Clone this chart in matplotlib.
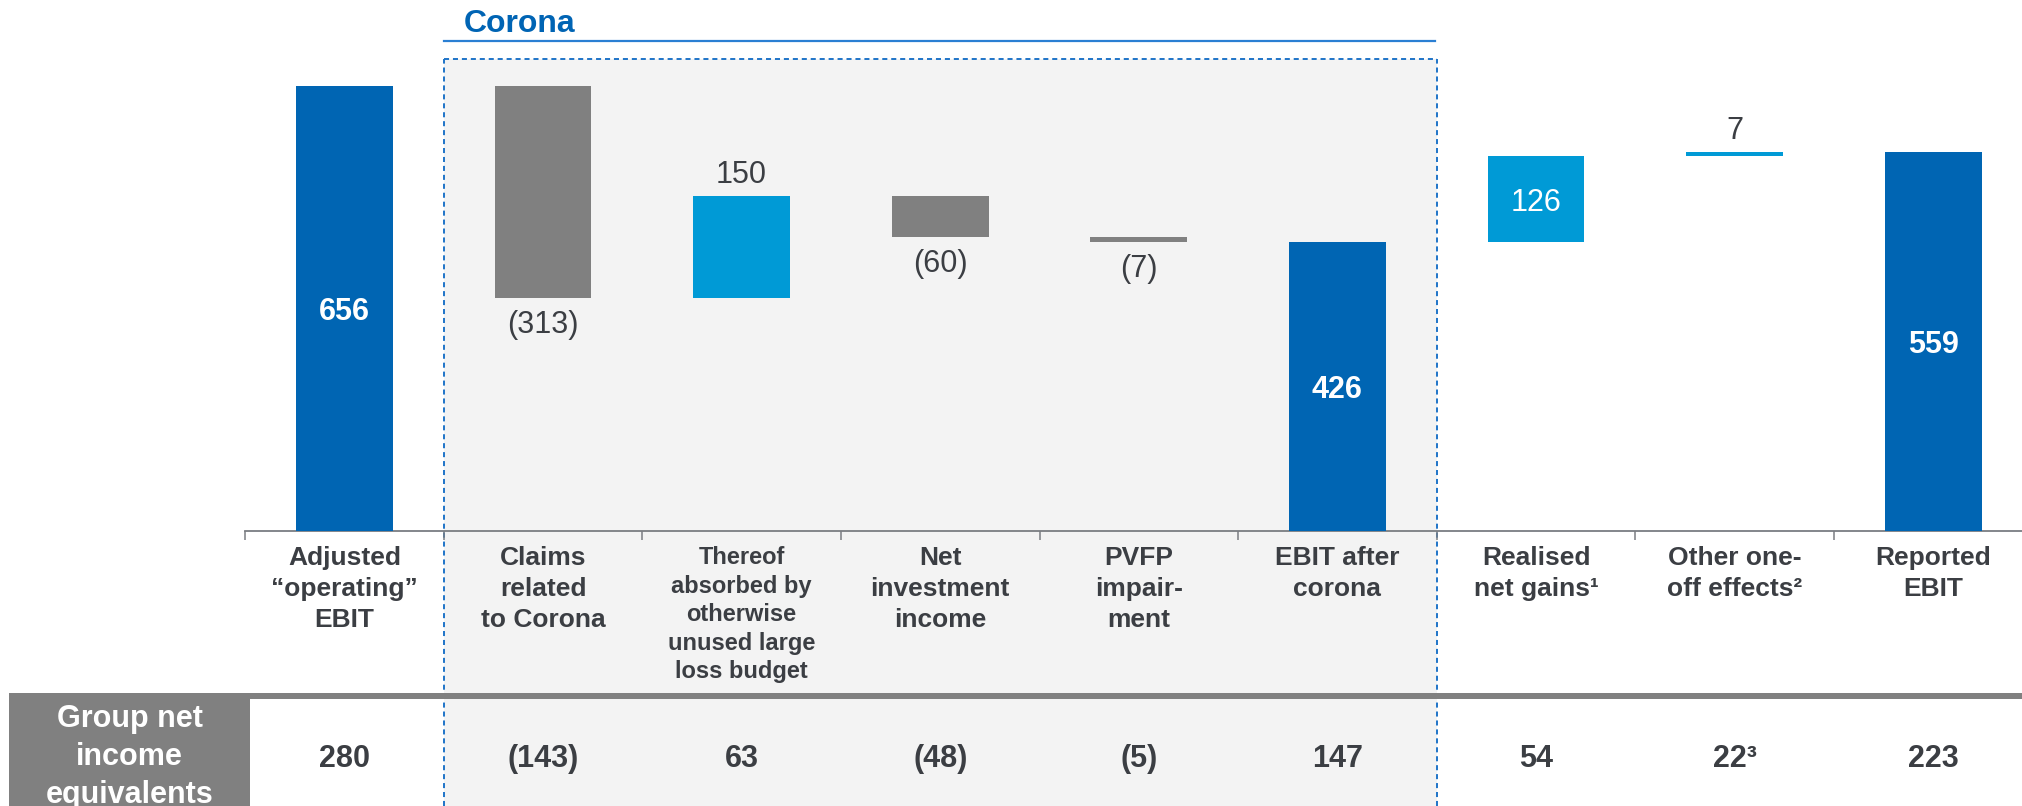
import matplotlib
matplotlib.use("Agg")
import matplotlib.pyplot as plt
import matplotlib.transforms as mtransforms
from matplotlib.patches import Rectangle
import numpy as np

plt.rcParams['font.family'] = ['Liberation Sans', 'DejaVu Sans']

# ---------------- data ----------------
categories = [
    'Adjusted\n\u201coperating\u201d\nEBIT',
    'Claims\nrelated\nto Corona',
    'Thereof\nabsorbed by\notherwise\nunused large\nloss budget',
    'Net\ninvestment\nincome',
    'PVFP\nimpair-\nment',
    'EBIT after\ncorona',
    'Realised\nnet gains\u00b9',
    'Other one-\noff effects\u00b2',
    'Reported\nEBIT',
]
kinds = ['total', 'neg', 'pos', 'neg', 'neg', 'total', 'pos', 'pos', 'total']
values = [656, -313, 150, -60, -7, 426, 126, 7, 559]
bar_labels = ['656', '(313)', '150', '(60)', '(7)', '426', '126', '7', '559']
net_income = ['280', '(143)', '63', '(48)', '(5)', '147', '54', '22\u00b3', '223']
row_title = 'Group net\nincome\nequivalents'
group_title = 'Corona'
group_span = (1, 5)          # categories inside the Corona box

# ---------------- styles ----------------
W, H, DPI = 2022, 806, 100
C_TOTAL = '#0065b3'
C_POS = '#009ad6'
C_NEG = '#808080'
C_TEXT = '#3b3e43'
C_SHADE = '#f3f3f3'
C_DASH = '#1f74c8'
label_mode = ['in', 'below', 'above', 'below', 'below', 'in', 'in', 'above', 'in']

fig = plt.figure(figsize=(W / DPI, H / DPI), dpi=DPI)
fig.patch.set_facecolor('white')

base_px = 530.7      # baseline position from top
px_per_unit = 0.678
c0_px, step_px = 344.4, 198.6

ax = fig.add_axes([0, (H - base_px) / H, 1, base_px / H])
ax.patch.set_visible(False)
for s in ['top', 'left', 'right']:
    ax.spines[s].set_visible(False)
ax.spines['bottom'].set_bounds(-0.5, len(categories) - 0.5)
ax.spines['bottom'].set_color('#7a7d82')
ax.spines['bottom'].set_linewidth(1.3)
ax.set_yticks([])
ax.set_xticks(np.arange(-0.5, len(categories) - 0.5, 1.0))
ax.set_xticklabels([])
ax.tick_params(axis='x', direction='out', length=6.5, width=1.1, color='#7a7d82')
ax.set_ylim(0, base_px / px_per_unit)
ax.set_xlim(-c0_px / step_px, (W - c0_px) / step_px)

# waterfall geometry
x = np.arange(len(categories))
bottoms, heights, colors = [], [], []
running = 0
for k, v in zip(kinds, values):
    if k == 'total':
        bottoms.append(0); heights.append(v); colors.append(C_TOTAL)
        running = v
    elif k == 'pos':
        bottoms.append(running); heights.append(v); colors.append(C_POS)
        running += v
    else:
        bottoms.append(running + v); heights.append(-v); colors.append(C_NEG)
        running += v

ax.bar(x, heights, bottom=bottoms, width=0.488, color=colors, zorder=3)

# bar labels
for i, (lab, mode) in enumerate(zip(bar_labels, label_mode)):
    b, h = bottoms[i], heights[i]
    if mode == 'in':
        bold = kinds[i] == 'total'
        ax.text(x[i], b + h / 2, lab, ha='center', va='center_baseline',
                fontsize=22, color='white', fontweight='bold' if bold else 'normal', zorder=4)
    elif mode == 'above':
        ax.annotate(lab, (x[i], b + h), xytext=(0, 9.5), textcoords='offset points',
                    ha='center', va='baseline', fontsize=22, color=C_TEXT, zorder=4)
    else:
        ax.annotate(lab, (x[i], b), xytext=(0, -8.5), textcoords='offset points',
                    ha='center', va='top', fontsize=22, color=C_TEXT, zorder=4)

# blended transform: x in data, y in figure fraction
bt = mtransforms.blended_transform_factory(ax.transData, fig.transFigure)

def fy(px):
    return (H - px) / H

# Corona shaded box
x0, x1 = group_span[0] - 0.5, group_span[1] + 0.5
top = fy(58.5)
ax.add_patch(Rectangle((x0, 0), x1 - x0, top, transform=bt, facecolor=C_SHADE,
                       edgecolor='none', zorder=0, clip_on=False))
dash = (0, (2.6, 2.0))
for xs, ys in [([x0, x0], [0, top]), ([x0, x1], [top, top]), ([x1, x1], [0, top])]:
    ax.plot(xs, ys, transform=bt, color=C_DASH, lw=1.4, linestyle=dash,
            clip_on=False, zorder=1, solid_capstyle='butt', dash_capstyle='butt')

# Corona title and underline
ax.plot([x0, x1 - 0.01], [fy(40.7), fy(40.7)], transform=bt, color='#2a7fd3',
        lw=1.6, clip_on=False, zorder=1)
ax.text(x0 + 0.102, fy(32), group_title, transform=bt, ha='left', va='baseline',
        fontsize=23, fontweight='bold', color='#0064b4')

# category labels
for i, lab in enumerate(categories):
    small = lab.count('\n') >= 4
    ax.text(x[i], fy(546), lab, transform=bt, ha='center', va='top',
            fontsize=17 if small else 19, fontweight='bold', color=C_TEXT,
            linespacing=1.31 if small else 1.38, multialignment='center')

# net income row
fig.add_artist(Rectangle((9 / W, 0), (250 - 9) / W, fy(693), transform=fig.transFigure,
                         facecolor='#808080', edgecolor='none', zorder=2))
fig.add_artist(Rectangle((9 / W, fy(698.5)), (W - 9) / W, fy(693) - fy(698.5),
                         transform=fig.transFigure, facecolor='#808080',
                         edgecolor='none', zorder=2))
fig.text(129.5 / W, fy(757), row_title, ha='center', va='center', fontsize=22,
         fontweight='bold', color='white', linespacing=1.35, multialignment='center',
         zorder=3)
for i, v in enumerate(net_income):
    ax.text(x[i], fy(767), v, transform=bt, ha='center', va='baseline',
            fontsize=22, fontweight='bold', color=C_TEXT)

fig.savefig('out.png', dpi=DPI)
